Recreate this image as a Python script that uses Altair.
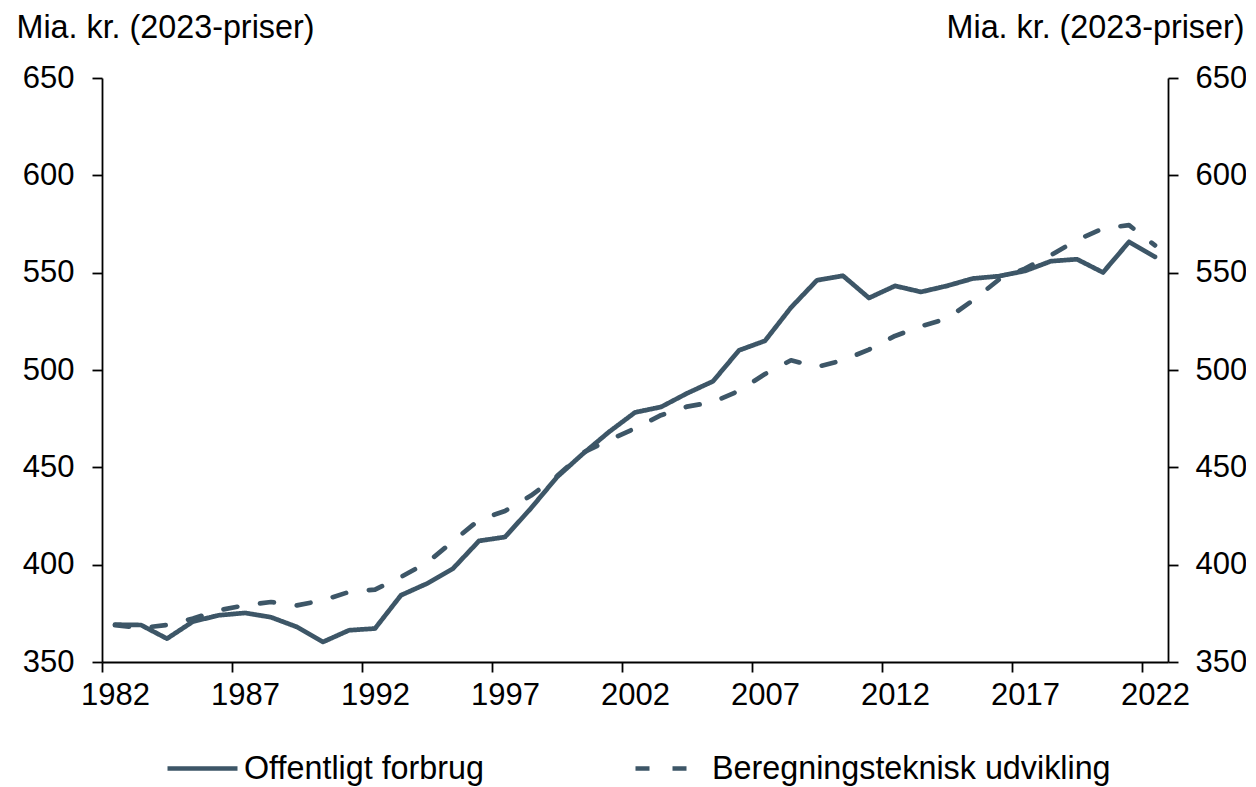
import altair as alt
import pandas as pd

years = list(range(1982, 2023))
offentligt = [369.2, 369.0, 362.0, 370.8, 374.0, 375.2, 373.0, 368.0, 360.3, 366.3,
              367.2, 384.3, 390.3, 398.0, 412.2, 414.2, 429.0, 445.0, 457.0, 468.2,
              478.2, 481.0, 488.0, 494.2, 510.1, 515.0, 532.1, 546.1, 548.4, 537.0,
              543.2, 540.1, 543.2, 547.0, 548.2, 550.9, 555.9, 556.9, 550.1, 565.8,
              558.1]
beregning = [368.9, 367.5, 369.0, 372.3, 376.6, 379.1, 380.8, 379.1, 381.7, 386.0,
             387.2, 393.7, 401.0, 412.0, 423.0, 427.6, 435.5, 445.5, 457.5, 464.0,
             470.0, 476.8, 481.2, 483.5, 489.3, 497.9, 505.0, 501.6, 505.0, 510.5,
             517.5, 522.5, 526.4, 535.8, 546.5, 552.1, 559.0, 566.7, 572.7, 574.4,
             564.0]
series_names = ["Offentligt forbrug", "Beregningsteknisk udvikling"]
y_ticks = [350, 400, 450, 500, 550, 600, 650]
x_ticks = [1982, 1987, 1992, 1997, 2002, 2007, 2012, 2017, 2022]
y_title = "Mia. kr. (2023-priser)"

df = pd.DataFrame({
    "year": years * 2,
    "value": offentligt + beregning,
    "serie": [series_names[0]] * len(years) + [series_names[1]] * len(years),
})

FONT = "Liberation Sans"
FS = 31
TFS = 32.3
COLOR = "#3d5667"
W, H = 1066, 584

x_enc = alt.X("year:Q",
              scale=alt.Scale(domain=[1981.5, 2022.5], nice=False, zero=False),
              axis=alt.Axis(values=x_ticks, format="d", title=None, grid=False,
                            tickOffset=-13, labelOffset=13, tickSize=10,
                            labelPadding=8, labelFontSize=FS, labelFont=FONT,
                            labelColor="black", domainColor="black", tickColor="black",
                            domainWidth=1.8, tickWidth=1.8, labelFlush=False,
                            labelOverlap=False))

y_scale = alt.Scale(domain=[350, 650], nice=False, zero=False)

lines = alt.Chart(df).mark_line(strokeWidth=4.7, color=COLOR, strokeCap="round",
                                strokeJoin="round").encode(
    x=x_enc,
    y=alt.Y("value:Q", scale=y_scale,
            axis=alt.Axis(values=y_ticks, title=y_title, titleAngle=0, titleAlign="left",
                          titleBaseline="alphabetic", titleX=-86, titleY=-41,
                          titleFontSize=TFS, titleFont=FONT, titleFontWeight="normal",
                          titleColor="black", grid=False, tickSize=10, labelPadding=18,
                          labelFontSize=FS, labelFont=FONT, labelColor="black",
                          domainColor="black", tickColor="black", domainWidth=1.8,
                          tickWidth=1.8, labelFlush=False, labelOverlap=False)),
    strokeDash=alt.StrokeDash("serie:N",
                              scale=alt.Scale(domain=series_names, range=[[1, 0], [14, 23]]),
                              sort=series_names,
                              legend=alt.Legend(title=None, orient="none", direction="horizontal",
                                                legendX=63, legendY=653,
                                                symbolType="stroke", symbolSize=4900,
                                                symbolStrokeWidth=4.5, symbolStrokeColor=COLOR,
                                                labelFontSize=TFS, labelFont=FONT,
                                                labelColor="black", labelOffset=4,
                                                columnPadding=142, padding=0,
                                                labelLimit=600)),
    detail="serie:N",
)

right = alt.Chart(df).mark_point(opacity=0).encode(
    x=alt.X("year:Q", scale=alt.Scale(domain=[1981.5, 2022.5], nice=False, zero=False)),
    y=alt.Y("value:Q", scale=y_scale,
            axis=alt.Axis(orient="right", values=y_ticks, title=y_title, titleAngle=0,
                          titleAlign="right", titleBaseline="alphabetic", titleX=76,
                          titleY=-41, titleFontSize=TFS, titleFont=FONT,
                          titleFontWeight="normal", titleColor="black", grid=False,
                          tickSize=10, labelPadding=17, labelFontSize=FS, labelFont=FONT,
                          labelColor="black", domainColor="black", tickColor="black",
                          domainWidth=1.8, tickWidth=1.8, labelFlush=False,
                          labelOverlap=False)),
)

chart = alt.layer(lines, right).resolve_scale(y="independent").properties(
    width=W, height=H,
    background="white",
    autosize=alt.AutoSizeParams(type="none"),
    padding={"left": 94, "top": 70, "right": 78, "bottom": 125},
).configure_view(strokeWidth=0, stroke="transparent")

chart.save("out.html", embed_options={"renderer": "svg", "actions": False})
